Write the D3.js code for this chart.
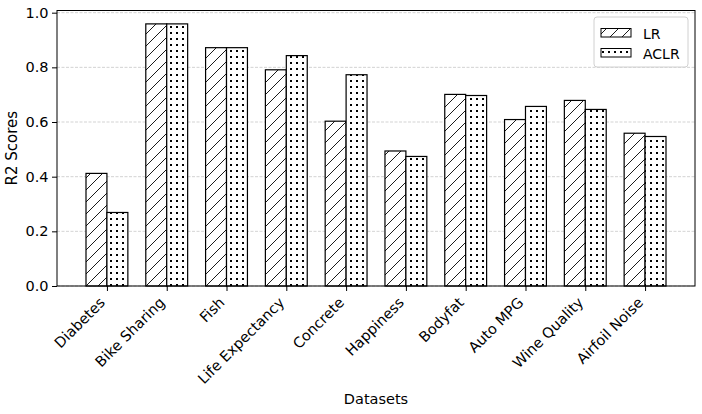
<!DOCTYPE html>
<html>
<head>
<meta charset="utf-8">
<script src="https://cdn.jsdelivr.net/npm/d3@7"></script>
<style>
  body { margin: 0; background: #fff; }
  text { font-family: "DejaVu Sans", sans-serif; fill: #000; }
</style>
</head>
<body>
<svg id="chart" width="702" height="414"></svg>
<script>
const datasets = ["Diabetes", "Bike Sharing", "Fish", "Life Expectancy", "Concrete",
  "Happiness", "Bodyfat", "Auto MPG", "Wine Quality", "Airfoil Noise"]
const lr_scores   = [0.412, 0.959, 0.872, 0.791, 0.603, 0.494, 0.701, 0.609, 0.679, 0.559]
const aclr_scores = [0.269, 0.959, 0.872, 0.843, 0.773, 0.474, 0.697, 0.657, 0.646, 0.547]
const series = ["LR", "ACLR"]
const y_ticks = [0, 0.2, 0.4, 0.6, 0.8, 1.0]

const m_left = 57, m_right = 695, m_top = 10.5, m_bottom = 286
const bar_w = 0.35

let svg = d3.select("#chart")

// hatch patterns
let defs = svg.append("defs")
let hatch = defs.append("pattern")
  .attr("id", "hatch-lr")
  .attr("patternUnits", "userSpaceOnUse")
  .attr("width", 12).attr("height", 12)
hatch.append("rect").attr("width", 12).attr("height", 12).attr("fill", "#fff")
hatch.append("path")
  .attr("d", "M-3,15 L15,-3 M-3,3 L3,-3 M9,15 L15,9")
  .attr("stroke", "#000").attr("stroke-width", 0.9)

let dots = defs.append("pattern")
  .attr("id", "hatch-aclr")
  .attr("patternUnits", "userSpaceOnUse")
  .attr("width", 6).attr("height", 6)
dots.append("rect").attr("width", 6).attr("height", 6).attr("fill", "#fff")
dots.append("rect").attr("x", 2).attr("y", 2).attr("width", 2).attr("height", 2).attr("fill", "#000")

let x = d3.scaleLinear().domain([-0.835, datasets.length - 1 + 0.835]).range([m_left, m_right])
let y = d3.scaleLinear().domain([0, 1.008]).range([m_bottom, m_top])

// grid
svg.append("g")
  .selectAll("line")
  .data(y_ticks).enter()
  .append("line")
  .attr("x1", m_left).attr("x2", m_right)
  .attr("y1", d => y(d)).attr("y2", d => y(d))
  .attr("stroke", "#c8c8c8")
  .attr("stroke-width", 0.8)
  .attr("stroke-dasharray", "3,1.5")

// bars
let bar_data = []
datasets.forEach((name, i) => {
  bar_data.push({i: i, s: 0, v: lr_scores[i]})
  bar_data.push({i: i, s: 1, v: aclr_scores[i]})
})
svg.append("g")
  .selectAll("rect")
  .data(bar_data).enter()
  .append("rect")
  .attr("x", d => x(d.i + (d.s == 0 ? -bar_w : 0)))
  .attr("width", d => x(bar_w) - x(0))
  .attr("y", d => y(d.v))
  .attr("height", d => y(0) - y(d.v))
  .attr("fill", d => d.s == 0 ? "url(#hatch-lr)" : "url(#hatch-aclr)")
  .attr("stroke", "#000")
  .attr("stroke-width", 1.2)

// y axis
let y_axis = svg.append("g")
  .attr("transform", `translate(${m_left},0)`)
  .call(d3.axisLeft(y).tickValues(y_ticks).tickFormat(d3.format(".1f")).tickSize(5).tickPadding(3.5))
y_axis.select(".domain").remove()
y_axis.selectAll("text").style("font-size", "14.5px")
y_axis.selectAll("line").attr("stroke-width", 1)

// x axis
let x_axis = svg.append("g")
  .attr("transform", `translate(0,${m_bottom})`)
  .call(d3.axisBottom(x).tickValues(d3.range(datasets.length)).tickFormat(i => datasets[i]).tickSize(5))
x_axis.select(".domain").remove()
x_axis.selectAll("text")
  .style("font-size", "14.5px")
  .attr("text-anchor", "end")
  .attr("dy", null)
  .attr("y", 0)
  .attr("transform", "translate(-1.5,17.5) rotate(-45)")

// frame
svg.append("rect")
  .attr("x", m_left).attr("y", m_top)
  .attr("width", m_right - m_left).attr("height", m_bottom - m_top)
  .attr("fill", "none").attr("stroke", "#000").attr("stroke-width", 1)

// axis labels
svg.append("text")
  .attr("transform", `translate(16.5,${(m_top + m_bottom) / 2}) rotate(-90)`)
  .attr("text-anchor", "middle")
  .style("font-size", "15px")
  .text("R2 Scores")
svg.append("text")
  .attr("x", (m_left + m_right) / 2).attr("y", 403.5)
  .attr("text-anchor", "middle")
  .style("font-size", "14.5px")
  .text("Datasets")

// legend
let legend = svg.append("g").attr("transform", "translate(594,17)")
legend.append("rect")
  .attr("width", 94).attr("height", 50)
  .attr("rx", 3)
  .attr("fill", "#fff").attr("stroke", "#d0d0d0")
let items = legend.selectAll(".legend-item")
  .data(series).enter()
  .append("g")
  .attr("transform", (d, i) => `translate(0, ${i * 20})`)
items.append("rect")
  .attr("x", 7).attr("y", 11.5)
  .attr("width", 30).attr("height", 8.5)
  .attr("fill", (d, i) => i == 0 ? "url(#hatch-lr)" : "url(#hatch-aclr)")
  .attr("stroke", "#000").attr("stroke-width", 1)
items.append("text")
  .attr("x", 49).attr("y", 22)
  .style("font-size", "14px")
  .text(d => d)
</script>
</body>
</html>
